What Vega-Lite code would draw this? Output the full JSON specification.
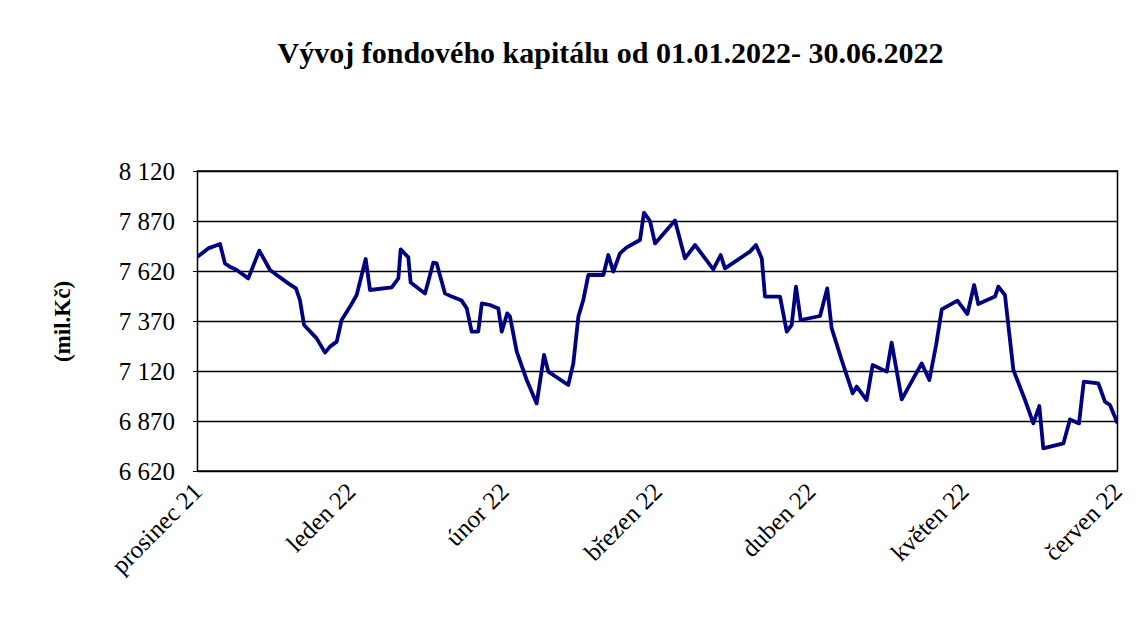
{
  "$schema": "https://vega.github.io/schema/vega-lite/v6.json",
  "autosize": {"type": "none"},
  "width": 920,
  "height": 300,
  "padding": {"left": 197.5, "top": 171, "right": 21.5, "bottom": 146},
  "background": "white",
  "config": {
    "font": "Liberation Serif",
    "view": {"stroke": "black", "strokeWidth": 1.5}
  },
  "title": {
    "text": "Vývoj fondového kapitálu od 01.01.2022- 30.06.2022",
    "font": "Liberation Serif",
    "fontSize": 30,
    "fontWeight": "bold",
    "color": "black",
    "anchor": "middle",
    "dx": -47,
    "offset": 90
  },
  "data": {
    "values": [
      {"m": 0.000, "v": 7691}, {"m": 0.070, "v": 7733}, {"m": 0.147, "v": 7755}, {"m": 0.179, "v": 7658},
      {"m": 0.212, "v": 7641}, {"m": 0.256, "v": 7625}, {"m": 0.331, "v": 7583}, {"m": 0.403, "v": 7722},
      {"m": 0.473, "v": 7625}, {"m": 0.517, "v": 7600}, {"m": 0.592, "v": 7558}, {"m": 0.642, "v": 7533},
      {"m": 0.668, "v": 7475}, {"m": 0.695, "v": 7350}, {"m": 0.777, "v": 7283}, {"m": 0.832, "v": 7212},
      {"m": 0.864, "v": 7242}, {"m": 0.908, "v": 7267}, {"m": 0.940, "v": 7375}, {"m": 0.995, "v": 7442},
      {"m": 1.038, "v": 7500}, {"m": 1.097, "v": 7680}, {"m": 1.125, "v": 7525}, {"m": 1.267, "v": 7538},
      {"m": 1.310, "v": 7583}, {"m": 1.325, "v": 7728}, {"m": 1.375, "v": 7688}, {"m": 1.390, "v": 7562},
      {"m": 1.484, "v": 7508}, {"m": 1.538, "v": 7662}, {"m": 1.560, "v": 7658}, {"m": 1.614, "v": 7508},
      {"m": 1.658, "v": 7492}, {"m": 1.723, "v": 7472}, {"m": 1.756, "v": 7433}, {"m": 1.788, "v": 7317},
      {"m": 1.831, "v": 7317}, {"m": 1.854, "v": 7458}, {"m": 1.908, "v": 7450}, {"m": 1.962, "v": 7433},
      {"m": 1.984, "v": 7317}, {"m": 2.020, "v": 7408}, {"m": 2.038, "v": 7392}, {"m": 2.082, "v": 7217},
      {"m": 2.147, "v": 7075}, {"m": 2.212, "v": 6958}, {"m": 2.260, "v": 7200}, {"m": 2.288, "v": 7117},
      {"m": 2.418, "v": 7050}, {"m": 2.451, "v": 7158}, {"m": 2.484, "v": 7392}, {"m": 2.516, "v": 7475},
      {"m": 2.549, "v": 7600}, {"m": 2.647, "v": 7600}, {"m": 2.679, "v": 7700}, {"m": 2.712, "v": 7617},
      {"m": 2.755, "v": 7708}, {"m": 2.799, "v": 7738}, {"m": 2.886, "v": 7775}, {"m": 2.912, "v": 7912},
      {"m": 2.951, "v": 7870}, {"m": 2.984, "v": 7758}, {"m": 3.114, "v": 7872}, {"m": 3.179, "v": 7683},
      {"m": 3.245, "v": 7750}, {"m": 3.364, "v": 7628}, {"m": 3.412, "v": 7700}, {"m": 3.440, "v": 7633},
      {"m": 3.603, "v": 7717}, {"m": 3.642, "v": 7750}, {"m": 3.680, "v": 7683}, {"m": 3.701, "v": 7492},
      {"m": 3.799, "v": 7492}, {"m": 3.843, "v": 7317}, {"m": 3.875, "v": 7350}, {"m": 3.903, "v": 7542},
      {"m": 3.934, "v": 7375}, {"m": 4.060, "v": 7395}, {"m": 4.107, "v": 7533}, {"m": 4.136, "v": 7333},
      {"m": 4.201, "v": 7175}, {"m": 4.273, "v": 7008}, {"m": 4.299, "v": 7042}, {"m": 4.364, "v": 6975},
      {"m": 4.403, "v": 7150}, {"m": 4.495, "v": 7117}, {"m": 4.527, "v": 7262}, {"m": 4.593, "v": 6978},
      {"m": 4.723, "v": 7158}, {"m": 4.773, "v": 7075}, {"m": 4.817, "v": 7250}, {"m": 4.854, "v": 7428},
      {"m": 4.956, "v": 7472}, {"m": 5.021, "v": 7405}, {"m": 5.065, "v": 7550}, {"m": 5.092, "v": 7455},
      {"m": 5.201, "v": 7492}, {"m": 5.223, "v": 7542}, {"m": 5.266, "v": 7500}, {"m": 5.321, "v": 7125},
      {"m": 5.397, "v": 6975}, {"m": 5.451, "v": 6858}, {"m": 5.490, "v": 6945}, {"m": 5.516, "v": 6733},
      {"m": 5.647, "v": 6758}, {"m": 5.690, "v": 6878}, {"m": 5.749, "v": 6858}, {"m": 5.780, "v": 7067},
      {"m": 5.875, "v": 7058}, {"m": 5.918, "v": 6967}, {"m": 5.951, "v": 6950}, {"m": 6.000, "v": 6858}
    ]
  },
  "mark": {"type": "line", "color": "#000080", "strokeWidth": 3.8, "strokeJoin": "round", "clip": true},
  "encoding": {
    "x": {
      "field": "m",
      "type": "quantitative",
      "scale": {"domain": [0, 6], "nice": false, "zero": false},
      "axis": {
        "title": null,
        "values": [0, 1, 2, 3, 4, 5, 6],
        "labelExpr": "['prosinec 21','leden 22','únor 22','březen 22','duben 22','květen 22','červen 22'][datum.value]",
        "labelAngle": -45,
        "labelAlign": "right",
        "labelBaseline": "middle",
        "labelFont": "Liberation Serif",
        "labelFontSize": 25,
        "labelColor": "black",
        "labelPadding": 16,
        "labelOverlap": false,
        "labelBound": false,
        "labelFlush": false,
        "grid": false,
        "ticks": false,
        "domain": false
      }
    },
    "y": {
      "field": "v",
      "type": "quantitative",
      "scale": {"domain": [6620, 8120], "nice": false, "zero": false},
      "axis": {
        "title": "(mil.Kč)",
        "titleFont": "Liberation Serif",
        "titleFontSize": 23,
        "titleFontWeight": "bold",
        "titleColor": "black",
        "titleAngle": -90,
        "titleBaseline": "middle",
        "titleX": -135,
        "titleY": 150,
        "values": [6620, 6870, 7120, 7370, 7620, 7870, 8120],
        "labelExpr": "replace(format(datum.value, ','), ',', ' ')",
        "labelFont": "Liberation Serif",
        "labelFontSize": 25,
        "labelColor": "black",
        "labelPadding": 18,
        "ticks": true,
        "tickSize": 5,
        "tickColor": "black",
        "domain": false,
        "grid": true,
        "gridColor": "black",
        "gridWidth": 1.5,
        "gridOpacity": 1
      }
    }
  }
}
